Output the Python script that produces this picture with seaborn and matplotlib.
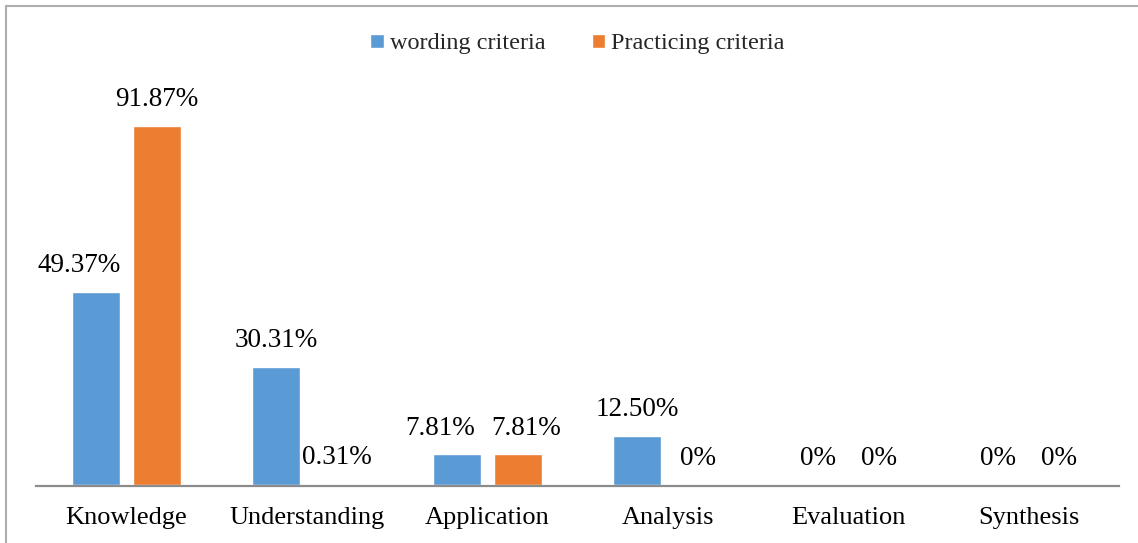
import matplotlib
matplotlib.use("Agg")
import matplotlib.pyplot as plt
from matplotlib.lines import Line2D
import seaborn as sns
import pandas as pd

categories = ["Knowledge", "Understanding", "Application", "Analysis", "Evaluation", "Synthesis"]
series_names = ["wording criteria", "Practicing criteria"]
wording_values = [49.37, 30.31, 7.81, 12.50, 0, 0]
practicing_values = [91.87, 0.31, 7.81, 0, 0, 0]
wording_labels = ["49.37%", "30.31%", "7.81%", "12.50%", "0%", "0%"]
practicing_labels = ["91.87%", "0.31%", "7.81%", "0%", "0%", "0%"]
colors = ["#5B9BD5", "#ED7D31"]

# horizontal nudges (points) of some data labels, as placed in the original chart
label_nudges = {(0, 0): -12, (0, 2): -12, (1, 2): 6}

rows = []
for c, v in zip(categories, wording_values):
    rows.append({"category": c, "series": series_names[0], "value": v})
for c, v in zip(categories, practicing_values):
    rows.append({"category": c, "series": series_names[1], "value": v})
df = pd.DataFrame(rows)

sns.set_style("white")
plt.rcParams["font.family"] = ["Liberation Serif", "DejaVu Serif"]

W, H = 1138, 543
fig = plt.figure(figsize=(W / 100, H / 100), dpi=100)
ax = fig.add_axes([36 / W, 58 / H, 1083 / W, 390.8 / H])

sns.barplot(data=df, x="category", y="value", hue="series", order=categories,
            hue_order=series_names, palette=colors, width=0.676, gap=0.21,
            saturation=1, ax=ax, legend=True)

ax.set_xlim(-0.5, 5.5)
ax.set_ylim(0, 100)
ax.set_xlabel("")
ax.set_ylabel("")
ax.set_yticks([])
ax.tick_params(axis="x", length=0, pad=15, labelsize=19, colors="black")
for s in ["top", "right", "left"]:
    ax.spines[s].set_visible(False)
ax.spines["bottom"].set_color("#8C8C8C")
ax.spines["bottom"].set_linewidth(1.6)
ax.spines["bottom"].set_position(("outward", 1))

for si, (cont, labels) in enumerate(zip(ax.containers, [wording_labels, practicing_labels])):
    for ci, (bar, lab) in enumerate(zip(cont, labels)):
        x = bar.get_x() + bar.get_width() / 2
        y = bar.get_height()
        dx = label_nudges.get((si, ci), 0)
        ax.annotate(lab, (x, y), xytext=(dx, 19), textcoords="offset points",
                    ha="center", va="center", fontsize=19.5, color="black")

leg = ax.legend(loc="center", bbox_to_anchor=(0.5, (543 - 44 - 58) / 390.8),
                ncol=2, frameon=False, fontsize=17.5, handlelength=0.55,
                handleheight=0.55, handletextpad=0.25, columnspacing=1.9,
                borderaxespad=0)

# outer frame (top and left edges visible)
lw = 1.5
fig.add_artist(Line2D([6 / W, 1.0], [1 - 5.5 / H, 1 - 5.5 / H], transform=fig.transFigure,
                      color="#ADADAD", linewidth=lw))
fig.add_artist(Line2D([6 / W, 6 / W], [0, 1 - 5.5 / H], transform=fig.transFigure,
                      color="#ADADAD", linewidth=lw))

fig.savefig("out.png", dpi=100, facecolor="white")
